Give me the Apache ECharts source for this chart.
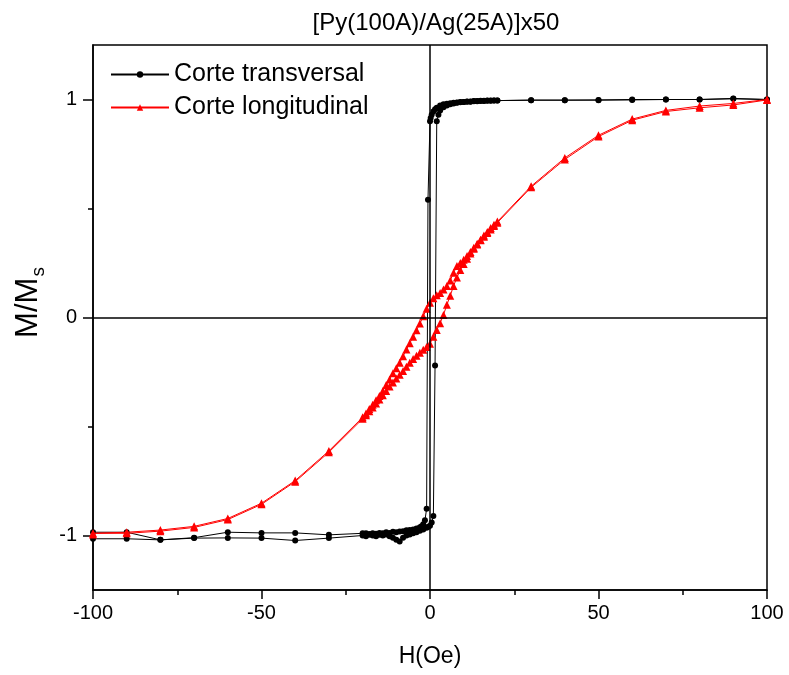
<!DOCTYPE html>
<html>
<head>
<meta charset="utf-8">
<script src="https://cdn.jsdelivr.net/npm/echarts@6/dist/echarts.min.js"></script>
<style>html,body{margin:0;padding:0;background:#fff}#c{width:789px;height:675px}</style>
</head>
<body>
<div id="c"></div>
<script>
// ---- Data ----
var titleText = '[Py(100A)/Ag(25A)]x50';
var seriesNames = ['Corte transversal', 'Corte longitudinal'];
var xTicks = [-100, -50, 0, 50, 100];
var yTickLabels = [-1, 0, 1];
var yMinorTicks = [-0.5, 0.5];

// Corte transversal: descending field branch
var transDownH = [100, 90, 80, 70, 60, 50, 40, 30, 20, 19, 18, 17, 16, 15, 14, 13, 12, 11, 10, 9, 8, 7, 6, 5, 4, 3, 2, 1.5, 1, 0.5, 0.2, 0, -0.6, -1, -1.5, -2, -2.5, -3, -4, -5, -6, -7, -8, -9, -10, -11, -12, -13, -14, -15, -16, -17, -18, -19, -20, -30, -40, -50, -60, -70, -80, -90, -100];
var transDownM = [1.0, 1.005, 1.0, 1.0, 0.998, 0.997, 0.997, 0.997, 0.995, 0.995, 0.994, 0.995, 0.993, 0.994, 0.992, 0.993, 0.99, 0.991, 0.989, 0.988, 0.986, 0.985, 0.983, 0.981, 0.978, 0.972, 0.962, 0.955, 0.945, 0.93, 0.915, 0.9, 0.54, -0.877, -0.93, -0.948, -0.958, -0.962, -0.968, -0.972, -0.975, -0.976, -0.98, -0.982, -0.985, -0.983, -0.988, -0.985, -0.99, -0.988, -0.992, -0.99, -0.993, -0.99, -0.99, -0.997, -0.988, -0.988, -0.985, -1.01, -1.02, -0.985, -0.985];
// Corte transversal: ascending field branch
var transUpH = [-100, -90, -80, -70, -60, -50, -40, -30, -20, -19, -18, -17, -16, -15, -14, -13, -12, -11, -10, -9, -8, -7, -6, -5, -4, -3, -2, -1, -0.5, 0, 0.5, 1, 1.5, 2, 2.5, 3, 4, 5, 6, 7, 8, 9, 10, 11, 12, 13, 14, 15, 16, 17, 18, 19, 20, 30, 40, 50, 60, 70, 80, 90, 100];
var transUpM = [-1.015, -1.015, -1.02, -1.012, -1.011, -1.012, -1.023, -1.012, -1.0, -1.004, -0.996, -1.0, -1.003, -0.997, -1.0, -0.995, -1.004, -1.01, -1.02, -1.028, -1.01, -1.0, -0.995, -0.99, -0.985, -0.978, -0.972, -0.965, -0.96, -0.955, -0.94, -0.911, -0.22, 0.9, 0.93, 0.95, 0.965, 0.972, 0.978, 0.982, 0.985, 0.987, 0.989, 0.99, 0.991, 0.992, 0.993, 0.993, 0.994, 0.994, 0.995, 0.995, 0.995, 0.997, 0.997, 0.998, 1.0, 1.0, 1.0, 1.003, 1.0];

// Corte longitudinal: descending field branch
var longDownH = [100, 90, 80, 70, 60, 50, 40, 30, 20, 19, 18, 17, 16, 15, 14, 13, 12, 11, 10, 9, 8, 7, 6, 5, 4, 3, 2, 1, 0, -1, -2, -3, -4, -5, -6, -7, -8, -9, -10, -11, -12, -13, -14, -15, -16, -17, -18, -19, -20, -30, -40, -50, -60, -70, -80, -90, -100];
var longDownM = [1.0, 0.982, 0.97, 0.95, 0.91, 0.836, 0.732, 0.602, 0.44, 0.425, 0.41, 0.392, 0.376, 0.357, 0.338, 0.32, 0.3, 0.282, 0.265, 0.25, 0.236, 0.205, 0.17, 0.145, 0.128, 0.112, 0.102, 0.088, 0.068, 0.04, 0.006, -0.028, -0.058, -0.088, -0.118, -0.147, -0.178, -0.207, -0.233, -0.256, -0.284, -0.31, -0.337, -0.36, -0.38, -0.4, -0.42, -0.44, -0.458, -0.612, -0.748, -0.852, -0.922, -0.958, -0.975, -0.985, -0.99];
// Corte longitudinal: ascending field branch
var longUpH = [-100, -90, -80, -70, -60, -50, -40, -30, -20, -19, -18, -17, -16, -15, -14, -13, -12, -11, -10, -9, -8, -7, -6, -5, -4, -3, -2, -1, 0, 1, 2, 3, 4, 5, 6, 7, 8, 9, 10, 11, 12, 13, 14, 15, 16, 17, 18, 19, 20, 30, 40, 50, 60, 70, 80, 90, 100];
var longUpM = [-0.995, -0.99, -0.98, -0.963, -0.927, -0.857, -0.753, -0.618, -0.465, -0.448, -0.43, -0.413, -0.395, -0.376, -0.357, -0.337, -0.317, -0.298, -0.28, -0.263, -0.245, -0.226, -0.207, -0.19, -0.176, -0.162, -0.148, -0.135, -0.12, -0.088, -0.057, -0.026, 0.012, 0.058, 0.1, 0.145, 0.184, 0.218, 0.245, 0.27, 0.294, 0.315, 0.335, 0.354, 0.37, 0.388, 0.404, 0.42, 0.435, 0.597, 0.725, 0.83, 0.905, 0.945, 0.962, 0.975, 0.998];

function pairs(h, m) { return h.map(function (v, i) { return [v, m[i]]; }); }
var transData = pairs(transDownH, transDownM).concat(pairs(transUpH, transUpM));
var longData = pairs(longDownH, longDownM).concat(pairs(longUpH, longUpM));

var FONT = '"Liberation Sans", Arial, sans-serif';
var chart = echarts.init(document.getElementById('c'), null, { renderer: 'canvas' });
chart.setOption({
  animation: false,
  backgroundColor: '#fff',
  textStyle: { fontFamily: FONT },
  title: {
    text: titleText,
    left: 431, top: 6, textAlign: 'center',
    textStyle: { fontFamily: FONT, fontSize: 24, fontWeight: 'normal', color: '#000' }
  },
  legend: {
    orient: 'vertical', left: 110, top: 62, padding: 0,
    itemWidth: 58, itemHeight: 8, itemGap: 8,
    textStyle: { fontFamily: FONT, fontSize: 25, color: '#000', lineHeight: 25 },
    data: seriesNames
  },
  grid: { left: 93, right: 22, top: 45, bottom: 85, show: true, borderColor: '#000', borderWidth: 1.5, backgroundColor: 'transparent' },
  xAxis: {
    type: 'value', min: xTicks[0], max: xTicks[xTicks.length - 1], interval: 50,
    name: 'H(Oe)', nameLocation: 'middle', nameGap: 55,
    nameTextStyle: { fontFamily: FONT, fontSize: 23, color: '#000' },
    axisLine: { show: true, onZero: false, lineStyle: { color: '#000', width: 1.5 } },
    axisTick: { show: true, inside: false, length: 9, lineStyle: { color: '#000', width: 1.5 } },
    minorTick: { show: true, splitNumber: 2, length: 5, lineStyle: { color: '#000', width: 1.5 } },
    axisLabel: { fontFamily: FONT, fontSize: 20, color: '#000', margin: 13 },
    splitLine: { show: false }
  },
  yAxis: [{
    type: 'value', min: -1.25, max: 1.25,
    name: '{a|M/M}{b|s}', nameLocation: 'middle', nameGap: 36, nameRotate: 90,
    nameTextStyle: {
      padding: [0, 0, 0, 30],
      rich: {
        a: { fontFamily: FONT, fontSize: 31, color: '#000' },
        b: { fontFamily: FONT, fontSize: 19, color: '#000', padding: [20, 0, 0, 1] }
      }
    },
    axisLine: { show: true, onZero: false, lineStyle: { color: '#000', width: 1.5 } },
    axisTick: { show: true, inside: false, length: 10, customValues: yTickLabels, lineStyle: { color: '#000', width: 1.5 } },
    axisLabel: { fontFamily: FONT, fontSize: 20, color: '#000', margin: 16, customValues: yTickLabels },
    splitLine: { show: false }
  }, {
    type: 'value', min: -1.25, max: 1.25, position: 'left', offset: 0,
    axisLine: { show: false, onZero: false },
    axisTick: { show: true, inside: false, length: 5, customValues: yMinorTicks, lineStyle: { color: '#000', width: 1.5 } },
    axisLabel: { show: false },
    splitLine: { show: false }
  }],
  series: [{
    name: seriesNames[0], type: 'line', data: transData, yAxisIndex: 0,
    symbol: 'circle', symbolSize: 6, showAllSymbol: true,
    itemStyle: { color: '#000' }, lineStyle: { color: '#000', width: 1 },
    markLine: {
      silent: true, symbol: ['none', 'none'], label: { show: false },
      lineStyle: { color: '#000', width: 1.5, type: 'solid' },
      data: [{ xAxis: 0 }, { yAxis: 0 }]
    },
    z: 2
  }, {
    name: seriesNames[1], type: 'line', data: longData, yAxisIndex: 0,
    symbol: 'triangle', symbolSize: 8, showAllSymbol: true,
    itemStyle: { color: '#ff0000' }, lineStyle: { color: '#ff0000', width: 1 },
    z: 3
  }]
});
</script>
</body>
</html>
